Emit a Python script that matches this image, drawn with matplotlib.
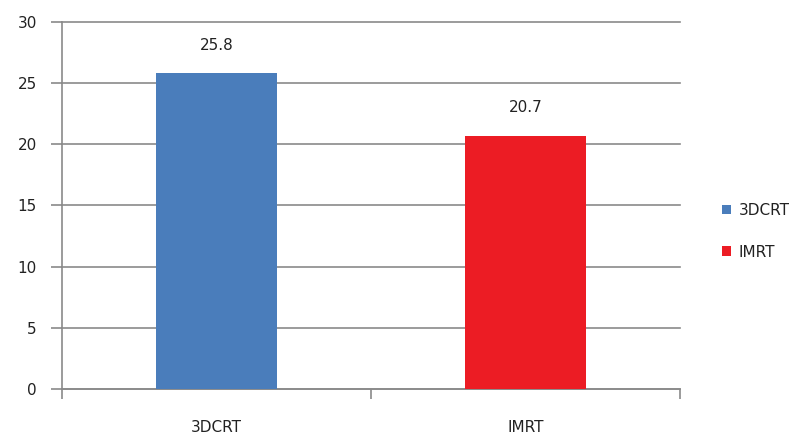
import matplotlib.pyplot as plt

categories = ["3DCRT", "IMRT"]
values = [25.8, 20.7]
colors = ["#4A7DBB", "#EC1C24"]

fig = plt.figure(figsize=(8.06, 4.38), dpi=100)
ax = fig.add_axes([0.0769, 0.1119, 0.7668, 0.8379])

x = list(range(len(categories)))
bars = ax.bar(x, values, width=0.39, color=colors, label=categories, zorder=3)

ax.set_xlim(-0.5, len(categories) - 0.5)
ax.set_ylim(0, 30)
ax.set_yticks(range(0, 31, 5))
ax.yaxis.grid(True, color="#8A8A8A", linewidth=1.2, zorder=0)
for gl in ax.get_ygridlines():
    gl.set_clip_on(False)

# category labels between boundary ticks
ax.set_xticks(x)
ax.set_xticklabels(categories, fontsize=11, color="#222222")
ax.tick_params(axis="x", length=0, pad=22)
ax.set_xticks([-0.5, 0.5, 1.5], minor=True)
ax.tick_params(axis="x", which="minor", length=7, width=1.2, color="#8A8A8A", direction="out")
ax.tick_params(axis="y", length=8, width=1.2, color="#8A8A8A", labelsize=11, labelcolor="#222222", pad=10)

for side in ["top", "right"]:
    ax.spines[side].set_visible(False)
for side in ["left", "bottom"]:
    ax.spines[side].set_color("#8A8A8A")
    ax.spines[side].set_linewidth(1.2)

for bar, v in zip(bars, values):
    ax.annotate(f"{v}", (bar.get_x() + bar.get_width() / 2, v),
                xytext=(0, 20), textcoords="offset points",
                ha="center", va="center", fontsize=11, color="#222222")

leg = ax.legend(loc="center left", bbox_to_anchor=(1.045, 0.43), frameon=False,
                fontsize=11, handlelength=0.6, handleheight=0.6,
                labelspacing=1.75, handletextpad=0.5)
for t in leg.get_texts():
    t.set_color("#222222")

fig.savefig("out.png", dpi=100)
